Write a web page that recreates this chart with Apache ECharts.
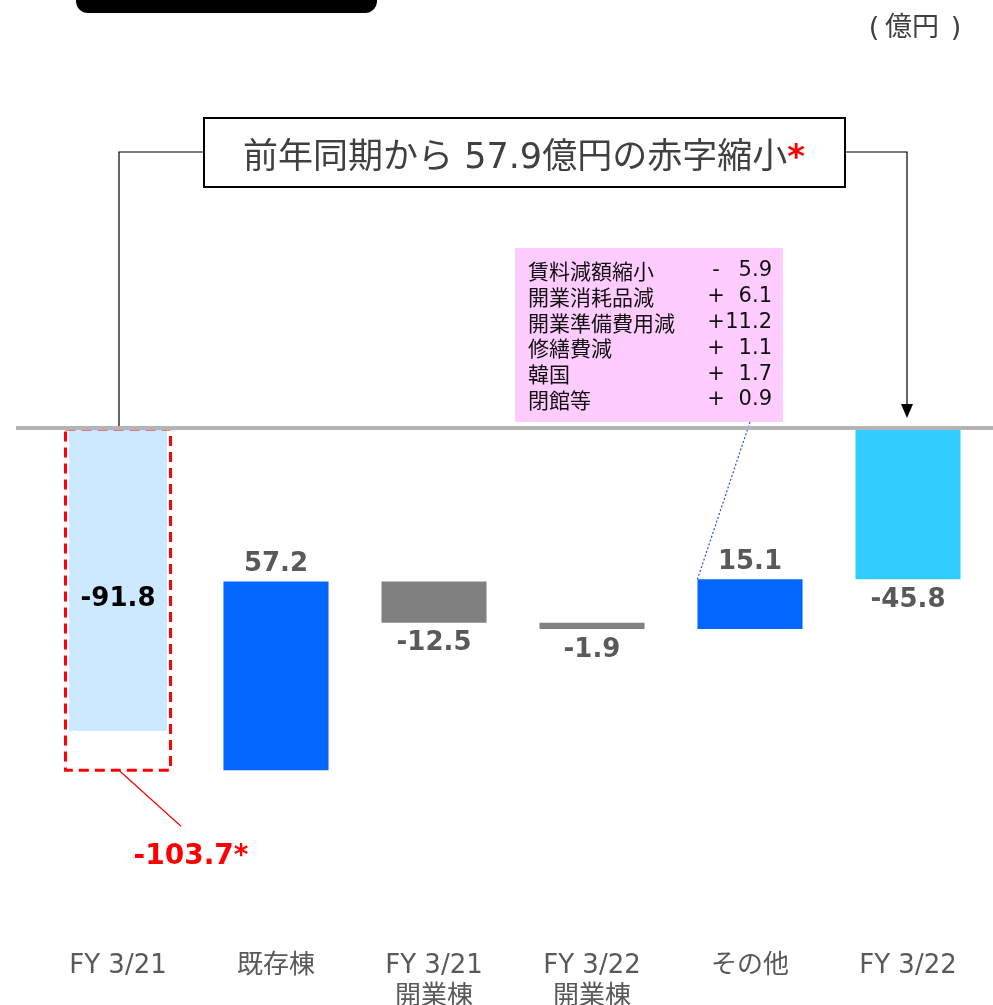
<!DOCTYPE html>
<html><head><meta charset="utf-8">
<script src="https://cdn.jsdelivr.net/npm/echarts@6/dist/echarts.min.js"></script>
<style>html,body{margin:0;padding:0;background:#fff}#c{width:993px;height:1005px}</style>
</head><body><div id="c"></div>
<script>
// ---- data ----
const categories = ['FY 3/21', '既存棟', 'FY 3/21\n開業棟', 'FY 3/22\n開業棟', 'その他', 'FY 3/22'];
const reportedPrior = -91.8;   // FY 3/21 as reported
const restatedPrior = -103.7;  // FY 3/21 restated (*)
const changes = [57.2, -12.5, -1.9, 15.1];
const current = -45.8;         // FY 3/22
const unitText = '億円';
const breakdownLabels = ['賃料減額縮小', '開業消耗品減', '開業準備費用減', '修繕費減', '韓国', '閉館等'];
const breakdownValues = [-5.9, 6.1, 11.2, 1.1, 1.7, 0.9];

// ---- build waterfall rows [index, low, high, value] ----
const rows = [[0, restatedPrior, 0, reportedPrior]];
let run = restatedPrior;
changes.forEach((v, k) => {
  const from = run;
  run = +(run + v).toFixed(1);
  rows.push([k + 1, Math.min(from, run), Math.max(from, run), v]);
});
rows.push([categories.length - 1, current, 0, current]);
const improvement = (current - restatedPrior).toFixed(1);
const headline = '前年同期から ' + improvement + '億円の赤字縮小';

const LABEL_FONT = 'bold 26px "DejaVu Sans", Verdana, sans-serif';
const CJK = '"Noto Sans CJK JP", "Noto Sans", sans-serif';
const MIX = '"DejaVu Sans", "Noto Sans CJK JP", sans-serif';

function renderItem(params, api) {
  const i = params.dataIndex;
  const lo = api.value(1), hi = api.value(2), val = api.value(3);
  const band = api.size([1, 0])[0];
  const w = band * 0.665;
  const cx = api.coord([i, 0])[0];
  const yTop = api.coord([i, hi])[1];
  const yBot = api.coord([i, lo])[1];
  const children = [];
  const last = rows.length - 1;
  if (i === 0) {
    const fw = band * 0.62;
    const yFill = api.coord([i, val])[1];
    children.push({ type: 'rect', shape: { x: cx - fw / 2, y: yTop, width: fw, height: yFill - yTop }, style: { fill: '#CCE9FF' } });
    children.push({ type: 'rect', shape: { x: cx - w / 2, y: yTop + 1, width: w, height: yBot - yTop - 1 }, style: { fill: 'transparent', stroke: '#FF0000', lineWidth: 3, lineDash: [10, 6] } });
    children.push({ type: 'text', style: { x: cx, y: (yTop + yBot) / 2, text: val.toFixed(1), font: LABEL_FONT, fill: '#000000', align: 'center', verticalAlign: 'middle' } });
  } else {
    let color;
    if (i === last) color = '#33CCFF';
    else color = val > 0 ? '#0066FF' : '#808080';
    children.push({ type: 'rect', shape: { x: cx - w / 2, y: yTop, width: w, height: Math.max(yBot - yTop, 1) }, style: { fill: color } });
    const ly = (val > 0 && i !== last) ? yTop - 17 : yBot + 21;
    children.push({ type: 'text', style: { x: cx, y: ly, text: val.toFixed(1), font: LABEL_FONT, fill: '#595959', align: 'center', verticalAlign: 'middle' } });
  }
  return { type: 'group', children };
}

const chart = echarts.init(document.getElementById('c'), null, { renderer: 'canvas' });
chart.setOption({
  animation: false,
  backgroundColor: '#ffffff',
  grid: { left: 39, right: 6, top: 428, bottom: 82, containLabel: false, outerBoundsMode: 'none' },
  xAxis: {
    type: 'category', data: categories, boundaryGap: true,
    axisLine: { show: false }, axisTick: { show: false }, splitLine: { show: false },
    axisLabel: { interval: 0, margin: 28, color: '#595959', fontSize: 26, lineHeight: 31, fontFamily: MIX, hideOverlap: false }
  },
  yAxis: { type: 'value', min: -150, max: 0, show: false, splitLine: { show: false } },
  series: [{ type: 'custom', renderItem, data: rows, encode: { x: 0, y: [1, 2] }, z: 2 }]
});

const P = (x, y) => chart.convertToPixel({ xAxisIndex: 0, yAxisIndex: 0 }, [x, y]);
const z0 = P(0, 0);
const z5 = P(categories.length - 1, 0);
const band = P(1, 0)[0] - P(0, 0)[0];
const yRestated = P(0, restatedPrior)[1];
const other = rows[4];
const otherTopLeft = [P(4, 0)[0] - band * 0.665 / 2, P(4, other[2])[1]];

const g = [];
// top black tab (cut off)
g.push({ type: 'rect', shape: { x: 76, y: -20, width: 301, height: 33, r: 12 }, style: { fill: '#000000' }, z: 20 });
// unit
const unitStyle = { font: '27px ' + MIX, fill: '#404040', verticalAlign: 'middle' };
g.push({ type: 'text', x: 874, y: 29, style: Object.assign({ text: '(', align: 'center' }, unitStyle), z: 20 });
g.push({ type: 'text', x: 912, y: 29, style: Object.assign({ text: unitText, align: 'center' }, unitStyle), z: 20 });
g.push({ type: 'text', x: 956, y: 29, style: Object.assign({ text: ')', align: 'center' }, unitStyle), z: 20 });
// zero line
g.push({ type: 'line', shape: { x1: 16, y1: z0[1], x2: 993, y2: z0[1] }, style: { stroke: '#B4B4B4', lineWidth: 4 }, z: 30 });
// left bracket
g.push({ type: 'polyline', shape: { points: [[204, 152], [z0[0] + 1, 152], [z0[0] + 1, z0[1] - 2]] }, style: { stroke: '#000000', lineWidth: 1.2, fill: null }, z: 20 });
// right bracket with arrow
g.push({ type: 'polyline', shape: { points: [[845, 152], [z5[0] - 1, 152], [z5[0] - 1, z0[1] - 20]] }, style: { stroke: '#000000', lineWidth: 1.2, fill: null }, z: 20 });
g.push({ type: 'polygon', shape: { points: [[z5[0] - 7, z0[1] - 24], [z5[0] + 5, z0[1] - 24], [z5[0] - 1, z0[1] - 10]] }, style: { fill: '#000000' }, z: 20 });
// title box
g.push({ type: 'rect', shape: { x: 204, y: 118, width: 641, height: 69 }, style: { fill: '#ffffff', stroke: '#000000', lineWidth: 2 }, z: 21 });
g.push({ type: 'text', x: 524, y: 159, style: {
  text: '{a|' + headline + '}{b|*}',
  rich: {
    a: { fontSize: 35, fontFamily: MIX, fill: '#404040' },
    b: { fontSize: 34, fontWeight: 'bold', fontFamily: '"DejaVu Sans", sans-serif', fill: '#FF0000' }
  },
  align: 'center', verticalAlign: 'middle' }, z: 22 });
// breakdown box
g.push({ type: 'rect', shape: { x: 515, y: 248, width: 268, height: 174 }, style: { fill: '#FFCCFF' }, z: 20 });
breakdownLabels.forEach((lab, k) => {
  const y = 271 + k * 25.8;
  const v = breakdownValues[k];
  g.push({ type: 'text', x: 528, y, style: { text: lab, font: '21px ' + CJK, fill: '#111111', align: 'left', verticalAlign: 'middle' }, z: 21 });
  g.push({ type: 'text', x: 716, y, style: { text: v < 0 ? '-' : '+', font: '21px ' + MIX, fill: '#111111', align: 'center', verticalAlign: 'middle' }, z: 21 });
  g.push({ type: 'text', x: 772, y, style: { text: Math.abs(v).toFixed(1), font: '21px ' + MIX, fill: '#111111', align: 'right', verticalAlign: 'middle' }, z: 21 });
});
// blue dotted leader
g.push({ type: 'line', shape: { x1: 750, y1: 422, x2: otherTopLeft[0], y2: otherTopLeft[1] }, style: { stroke: '#1F4FFF', lineWidth: 1.2, lineDash: [2, 2] }, z: 20 });
// red leader + restated label
g.push({ type: 'line', shape: { x1: z0[0] + 2, y1: yRestated + 1, x2: z0[0] + 63, y2: yRestated + 56 }, style: { stroke: '#FF0000', lineWidth: 1.2 }, z: 20 });
g.push({ type: 'text', x: z0[0] + 73, y: yRestated + 87, style: { text: restatedPrior.toFixed(1) + '*', font: 'bold 28px "DejaVu Sans", Verdana, sans-serif', fill: '#FF0000', align: 'center', verticalAlign: 'middle' }, z: 20 });

chart.setOption({ graphic: g });
</script>
</body></html>
